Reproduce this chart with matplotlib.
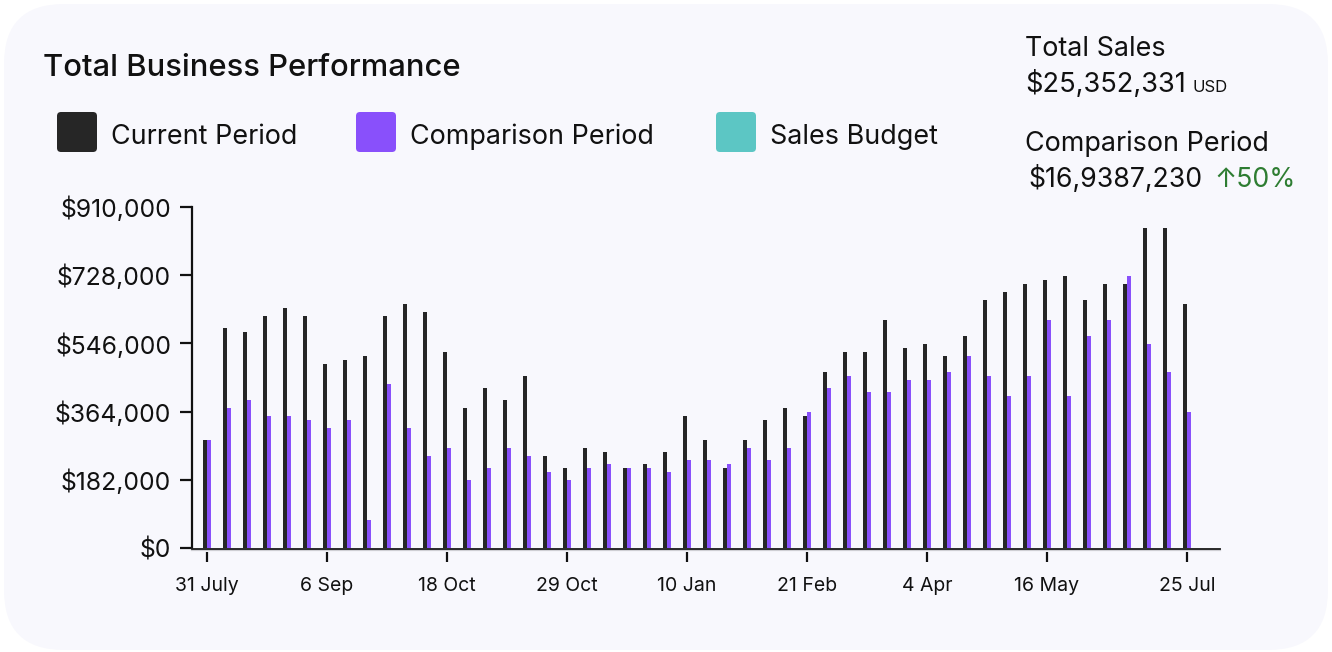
import matplotlib
matplotlib.use("Agg")
import matplotlib.pyplot as plt
from matplotlib.patches import FancyBboxPatch
from matplotlib.lines import Line2D

plt.rcParams['font.family'] = ['Inter', 'DejaVu Sans']

W, H = 1332, 652

# data
current = [288000, 586500, 575900, 618500, 639800, 618500, 490500, 501200, 511900, 618500,
           650500, 629200, 522500, 373200, 426600, 394600, 458600, 245300, 213300, 266600,
           255900, 213300, 223900, 255900, 351900, 287900, 213300, 287900, 341200, 373200,
           351900, 469200, 522500, 522500, 607800, 533200, 543900, 511900, 565200, 661200,
           682500, 703800, 714500, 725200, 661200, 703800, 703800, 853100, 853100, 650500]
comparison = [287900, 373200, 394600, 351900, 351900, 341200, 319900, 341200, 74600, 437200,
              319900, 245300, 266600, 181300, 213300, 266600, 245300, 202600, 181300, 213300,
              223900, 213300, 213300, 202600, 234600, 234600, 223900, 266600, 234600, 266600,
              362600, 426600, 458600, 415900, 415900, 447900, 447900, 469200, 511900, 458600,
              405200, 458600, 607800, 405200, 565200, 607800, 725200, 543900, 469200, 362600]
tick_pos = [0, 6, 12, 18, 24, 30, 36, 42, 49]
tick_labels = ["31 July", "6 Sep", "18 Oct", "29 Oct", "10 Jan", "21 Feb", "4 Apr", "16 May", "25 Jul"]
y_ticks = [0, 182000, 364000, 546000, 728000, 910000]
legend_names = ["Current Period", "Comparison Period", "Sales Budget"]
legend_colors = ["#262626", "#8950FB", "#5CC6C4"]


def fx(px):
    return px / W


def fy(py):
    return 1 - py / H


fig = plt.figure(figsize=(W / 100, H / 100), dpi=100, facecolor="white")

# card background
card = FancyBboxPatch((fx(4), fy(650)), fx(1324), (646) / H,
                      boxstyle="round,pad=0,rounding_size=0.045",
                      transform=fig.transFigure, facecolor="#F8F8FD",
                      edgecolor="none", mutation_aspect=W / H, zorder=-10)
fig.patches.append(card)

# axes
left, right, top, bottom = 192, 1220, 207, 548
ax = fig.add_axes([fx(left), fy(bottom), (right - left) / W, (bottom - top) / H])
ax.patch.set_alpha(0)

x = list(range(len(current)))
ax.bar([i - 0.1 for i in x], current, width=0.2, color=legend_colors[0], zorder=3)
ax.bar([i + 0.1 for i in x], comparison, width=0.2, color=legend_colors[1], zorder=3)

ax.set_xlim(-0.75, 50.65)
ax.set_ylim(0, 910000)

for s in ["top", "right"]:
    ax.spines[s].set_visible(False)
ax.spines["left"].set_linewidth(1.6)
ax.spines["left"].set_color("#111111")
ax.spines["bottom"].set_position(("outward", 3))
ax.spines["bottom"].set_visible(False)

ax.set_yticks(y_ticks)
ax.set_yticklabels(["${:,}".format(v) for v in y_ticks])
ax.set_xticks(tick_pos)
ax.set_xticklabels(tick_labels)

ax.tick_params(axis="y", length=9, width=1.6, pad=6, color="#111111",
               labelsize=17.8, labelcolor="#111111")
ax.tick_params(axis="x", length=7, width=1.6, pad=11, color="#111111",
               labelsize=14, labelcolor="#111111")

# baseline: dark line with light shadow under it
fig.add_artist(Line2D([fx(left), fx(right)], [fy(550), fy(550)], color="#cfcfd4",
                      lw=1.6, transform=fig.transFigure, zorder=4))
fig.add_artist(Line2D([fx(left), fx(right)], [fy(548.5), fy(548.5)], color="#1a1a1a",
                      lw=1.3, transform=fig.transFigure, zorder=5))

# title
fig.text(fx(43), fy(76), "Total Business Performance", fontsize=22.3, weight="medium",
         color="#111111", va="baseline", ha="left")

# legend
leg_x = [57, 356, 716]
for lx, name, col in zip(leg_x, legend_names, legend_colors):
    sq = FancyBboxPatch((fx(lx), fy(152)), 40 / W, 40 / H,
                        boxstyle="round,pad=0,rounding_size=0.003",
                        transform=fig.transFigure, facecolor=col, edgecolor="none",
                        mutation_aspect=W / H)
    fig.patches.append(sq)
    fig.text(fx(lx + 54), fy(144), name, fontsize=19.4, color="#111111",
             va="baseline", ha="left")

# summary on the right
fs = 19.4
fig.text(fx(1025), fy(56), "Total Sales", fontsize=fs, color="#111111", va="baseline")
fig.text(fx(1025), fy(92), "$25,352,331", fontsize=fs + 0.2, color="#111111", va="baseline")
fig.text(fx(1193), fy(92), "USD", fontsize=12, color="#111111", va="baseline")
fig.text(fx(1025), fy(151), "Comparison Period", fontsize=fs, color="#111111", va="baseline")
fig.text(fx(1028), fy(187), "$16,9387,230", fontsize=fs - 0.2, color="#111111", va="baseline")
fig.text(fx(1214), fy(187), "\u219150%", fontsize=fs - 0.2, color="#2E7D32", va="baseline")

fig.savefig("out.png", dpi=100, facecolor="white")
